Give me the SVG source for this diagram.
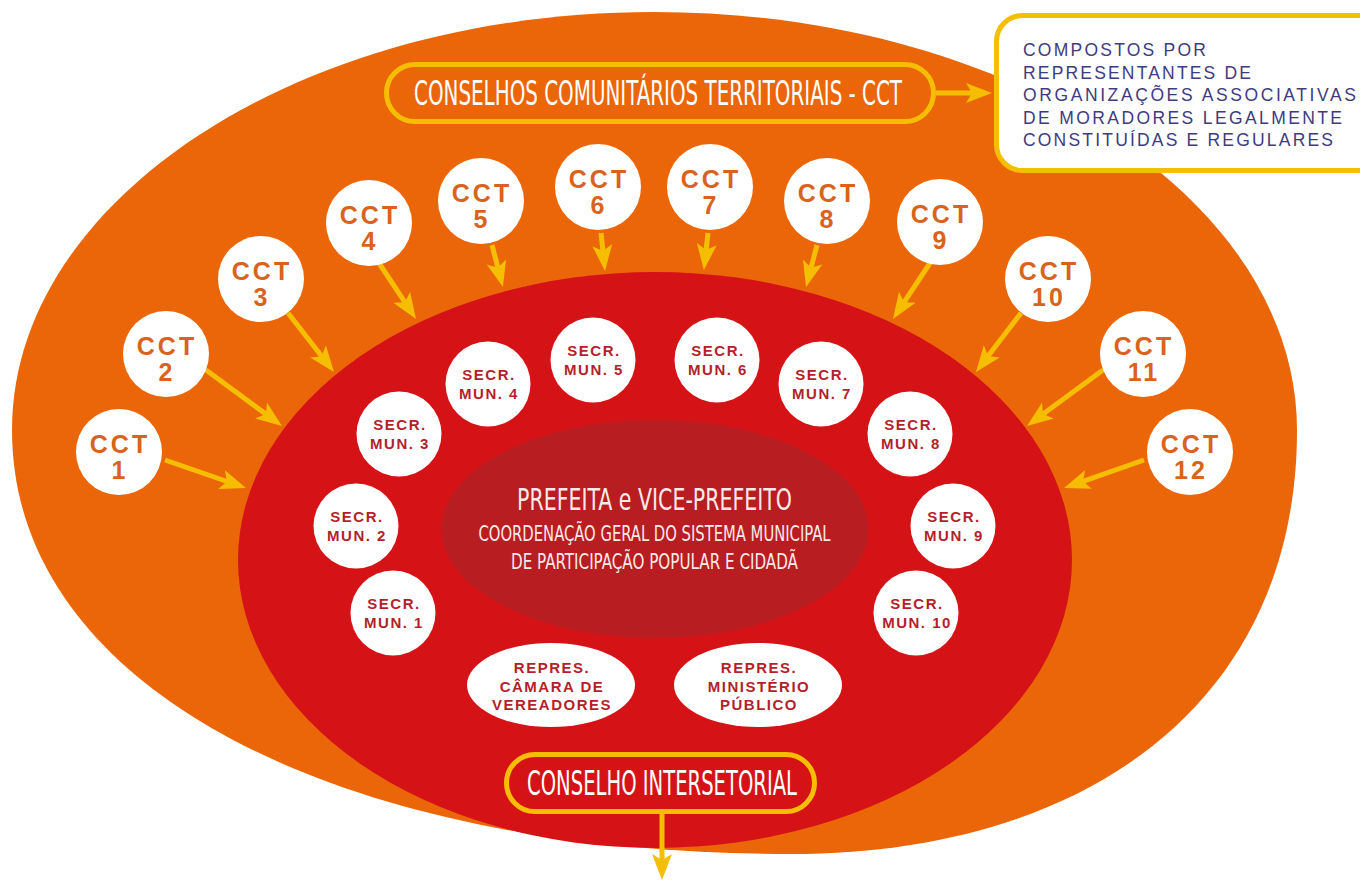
<svg xmlns="http://www.w3.org/2000/svg" width="1360" height="881" viewBox="0 0 1360 881">
  <defs>
    <style>
      .disc{fill:#ffffff}
      .cct-t{font-family:"Liberation Sans",Arial,sans-serif;font-weight:700;font-size:25px;fill:#d9631c;text-anchor:middle;letter-spacing:3px}
      .sec-t{font-family:"Liberation Sans",Arial,sans-serif;font-weight:700;font-size:15px;fill:#b41f2b;text-anchor:middle;letter-spacing:1.5px}
      .pill{fill:none;stroke:#f5be00;stroke-width:5}
      .title{font-family:"Liberation Sans Narrow","DejaVu Sans Condensed",sans-serif;font-size:33px;fill:#ffffff;text-anchor:middle}
      .center-t{font-family:"Liberation Sans Narrow","DejaVu Sans Condensed",sans-serif;fill:#fbe9e9;text-anchor:middle}
      .note-t{font-family:"Liberation Sans",Arial,sans-serif;font-size:17.5px;fill:#3e3b7e}
      .arrow{fill:none;stroke:#f5be00;stroke-width:5;marker-end:url(#head)}
    </style>
    <marker id="head" viewBox="0 -11 27 22" refX="6" refY="0" markerWidth="27" markerHeight="22" markerUnits="userSpaceOnUse" orient="auto">
      <path d="M0,-10 L26,0 L0,10 L6,0 Z" fill="#f5be00"/>
    </marker>
  </defs>

  <!-- background layers -->
  <g id="layers">
    <path id="outer-ring" d="M12,430 C12,199 300,12 654,12 C1009,12 1297,199 1297,430 C1297,700 1090,854 790,854 C340,854 12,690 12,430 Z" fill="#eb6608"/>
    <ellipse id="inner-ring" cx="655" cy="560" rx="417" ry="288" fill="#d51317"/>
    <ellipse id="core" cx="655" cy="529" rx="213.5" ry="109" fill="#b81e21"/>
  </g>

  <!-- connectors -->
  <g id="connectors">
    <path class="arrow" d="M936,93 L972,93"/>
    <path class="arrow" d="M165,460 L227.1,481.5"/>
    <path class="arrow" d="M206,370 L265.9,414.1"/>
    <path class="arrow" d="M288,313 L321.7,356.2"/>
    <path class="arrow" d="M379,263 L405,302.3"/>
    <path class="arrow" d="M492,245 L497.9,267.7"/>
    <path class="arrow" d="M601,233 L602.9,251.1"/>
    <path class="arrow" d="M708,233 L706.1,250.1"/>
    <path class="arrow" d="M817,245 L811.1,267.7"/>
    <path class="arrow" d="M930,263 L904,302.3"/>
    <path class="arrow" d="M1021,313 L988.1,356.1"/>
    <path class="arrow" d="M1103,370 L1043.1,414.1"/>
    <path class="arrow" d="M1144,460 L1082.9,481.3"/>
    <path class="arrow" d="M662,814 L662,860"/>
  </g>

  <!-- header -->
  <g id="cct-header">
    <rect class="pill" x="386.5" y="64.5" width="547" height="57" rx="28.5"/>
    <text class="title" x="658" y="105" textLength="488" lengthAdjust="spacingAndGlyphs">CONSELHOS COMUNITÁRIOS TERRITORIAIS - CCT</text>
  </g>

  <g id="cct-note">
    <rect x="996.5" y="15.5" width="420" height="155" rx="26" fill="#ffffff" stroke="#f5be00" stroke-width="5"/>
    <text class="note-t">
      <tspan x="1023" y="56" textLength="183">COMPOSTOS POR</tspan>
      <tspan x="1023" y="78.5" textLength="228">REPRESENTANTES DE</tspan>
      <tspan x="1023" y="101" textLength="333">ORGANIZAÇÕES ASSOCIATIVAS</tspan>
      <tspan x="1023" y="123.5" textLength="319">DE MORADORES LEGALMENTE</tspan>
      <tspan x="1023" y="146" textLength="310">CONSTITUÍDAS E REGULARES</tspan>
    </text>
  </g>

  <!-- territorial councils -->
  <g id="cct-1"><circle class="disc" cx="119" cy="452" r="43"/><text class="cct-t" x="120" y="453">CCT</text><text class="cct-t" x="120" y="479">1</text></g>
  <g id="cct-2"><circle class="disc" cx="166" cy="354" r="43"/><text class="cct-t" x="167" y="355">CCT</text><text class="cct-t" x="167" y="381">2</text></g>
  <g id="cct-3"><circle class="disc" cx="261" cy="279" r="43"/><text class="cct-t" x="262" y="280">CCT</text><text class="cct-t" x="262" y="306">3</text></g>
  <g id="cct-4"><circle class="disc" cx="369" cy="223" r="43"/><text class="cct-t" x="370" y="224">CCT</text><text class="cct-t" x="370" y="250">4</text></g>
  <g id="cct-5"><circle class="disc" cx="481" cy="201" r="43"/><text class="cct-t" x="482" y="202">CCT</text><text class="cct-t" x="482" y="228">5</text></g>
  <g id="cct-6"><circle class="disc" cx="598" cy="187" r="43"/><text class="cct-t" x="599" y="188">CCT</text><text class="cct-t" x="599" y="214">6</text></g>
  <g id="cct-7"><circle class="disc" cx="710" cy="187" r="43"/><text class="cct-t" x="711" y="188">CCT</text><text class="cct-t" x="711" y="214">7</text></g>
  <g id="cct-8"><circle class="disc" cx="827" cy="201" r="43"/><text class="cct-t" x="828" y="202">CCT</text><text class="cct-t" x="828" y="228">8</text></g>
  <g id="cct-9"><circle class="disc" cx="940" cy="222" r="43"/><text class="cct-t" x="941" y="223">CCT</text><text class="cct-t" x="941" y="249">9</text></g>
  <g id="cct-10"><circle class="disc" cx="1048" cy="279" r="43"/><text class="cct-t" x="1049" y="280">CCT</text><text class="cct-t" x="1049" y="306">10</text></g>
  <g id="cct-11"><circle class="disc" cx="1143" cy="354" r="43"/><text class="cct-t" x="1144" y="355">CCT</text><text class="cct-t" x="1144" y="381">11</text></g>
  <g id="cct-12"><circle class="disc" cx="1190" cy="452" r="43"/><text class="cct-t" x="1191" y="453">CCT</text><text class="cct-t" x="1191" y="479">12</text></g>

  <!-- municipal secretariats -->
  <g id="secr-1"><circle class="disc" cx="393" cy="613" r="42.5"/><text class="sec-t" x="394" y="609">SECR.</text><text class="sec-t" x="394" y="628">MUN. 1</text></g>
  <g id="secr-2"><circle class="disc" cx="356" cy="526" r="42.5"/><text class="sec-t" x="357" y="522">SECR.</text><text class="sec-t" x="357" y="541">MUN. 2</text></g>
  <g id="secr-3"><circle class="disc" cx="399" cy="434" r="42.5"/><text class="sec-t" x="400" y="430">SECR.</text><text class="sec-t" x="400" y="449">MUN. 3</text></g>
  <g id="secr-4"><circle class="disc" cx="488" cy="384" r="42.5"/><text class="sec-t" x="489" y="380">SECR.</text><text class="sec-t" x="489" y="399">MUN. 4</text></g>
  <g id="secr-5"><circle class="disc" cx="593" cy="360" r="42.5"/><text class="sec-t" x="594" y="356">SECR.</text><text class="sec-t" x="594" y="375">MUN. 5</text></g>
  <g id="secr-6"><circle class="disc" cx="717" cy="360" r="42.5"/><text class="sec-t" x="718" y="356">SECR.</text><text class="sec-t" x="718" y="375">MUN. 6</text></g>
  <g id="secr-7"><circle class="disc" cx="821" cy="384" r="42.5"/><text class="sec-t" x="822" y="380">SECR.</text><text class="sec-t" x="822" y="399">MUN. 7</text></g>
  <g id="secr-8"><circle class="disc" cx="910" cy="434" r="42.5"/><text class="sec-t" x="911" y="430">SECR.</text><text class="sec-t" x="911" y="449">MUN. 8</text></g>
  <g id="secr-9"><circle class="disc" cx="953" cy="526" r="42.5"/><text class="sec-t" x="954" y="522">SECR.</text><text class="sec-t" x="954" y="541">MUN. 9</text></g>
  <g id="secr-10"><circle class="disc" cx="916" cy="613" r="42.5"/><text class="sec-t" x="917" y="609">SECR.</text><text class="sec-t" x="917" y="628">MUN. 10</text></g>

  <!-- representatives -->
  <g id="repr-camara"><ellipse class="disc" cx="551" cy="685" rx="84" ry="42"/><text class="sec-t" x="552" y="673">REPRES.</text><text class="sec-t" x="552" y="692">CÂMARA DE</text><text class="sec-t" x="552" y="710">VEREADORES</text></g>
  <g id="repr-mp"><ellipse class="disc" cx="758" cy="685" rx="84" ry="42"/><text class="sec-t" x="759" y="673">REPRES.</text><text class="sec-t" x="759" y="692">MINISTÉRIO</text><text class="sec-t" x="759" y="710">PÚBLICO</text></g>

  <!-- coordination -->
  <g id="coordenacao">
    <text class="center-t" x="654.5" y="510" font-size="30" textLength="275" lengthAdjust="spacingAndGlyphs" fill="#ffffff">PREFEITA e VICE-PREFEITO</text>
    <text class="center-t" x="654.5" y="541" font-size="21" textLength="352" lengthAdjust="spacingAndGlyphs">COORDENAÇÃO GERAL DO SISTEMA MUNICIPAL</text>
    <text class="center-t" x="654.5" y="569" font-size="21" textLength="287" lengthAdjust="spacingAndGlyphs">DE PARTICIPAÇÃO POPULAR E CIDADÃ</text>
  </g>

  <g id="conselho-intersetorial">
    <rect class="pill" x="506.5" y="754.5" width="308" height="57" rx="28.5"/>
    <text class="title" x="662" y="795" textLength="270" lengthAdjust="spacingAndGlyphs">CONSELHO INTERSETORIAL</text>
  </g>
</svg>
